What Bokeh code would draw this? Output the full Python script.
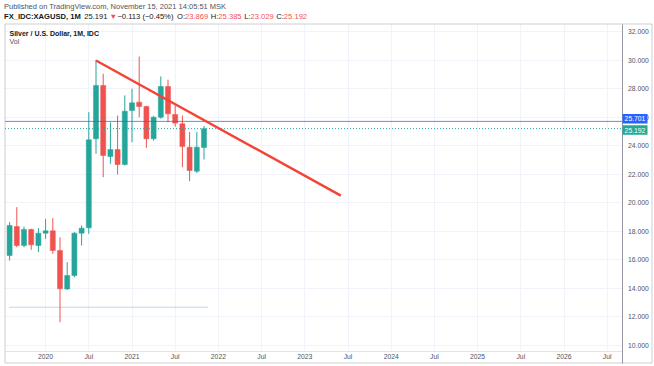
from bokeh.plotting import figure
from bokeh.models import (ColumnDataSource, FixedTicker, PrintfTickFormatter,
                          Label, BoxAnnotation, Range1d)
from bokeh.embed import file_html
from bokeh.resources import INLINE

# ---------------- data ----------------
# month index: 0 = Jan 2020 ; monthly bars Aug 2019 .. Nov 2021
month_idx = list(range(-5, 23))
open_ = [16.30, 18.33, 17.00, 18.13, 17.00, 17.87, 18.03, 16.65, 13.95,
         14.90, 17.87, 18.24, 24.48, 28.22, 23.24, 23.73, 22.68, 26.46, 27.05,
         26.74, 24.48, 25.99, 28.15, 26.18, 25.53, 23.89, 22.21, 23.869]
high = [18.64, 19.69, 18.33, 18.18, 18.22, 18.87, 18.92, 17.58, 15.83,
        17.94, 18.41, 26.35, 30.01, 29.04, 25.64, 26.11, 27.52, 27.99, 30.25,
        26.80, 26.08, 28.85, 28.62, 26.81, 26.11, 24.95, 24.95, 25.385]
low = [15.95, 16.88, 16.88, 16.70, 16.54, 17.47, 16.42, 11.63, 13.90,
       14.78, 17.00, 17.82, 23.43, 21.79, 22.73, 21.98, 22.61, 24.24, 25.99,
       23.85, 24.36, 25.88, 25.64, 25.34, 22.49, 21.51, 22.07, 23.029]
close = [18.41, 17.00, 18.13, 17.05, 17.87, 18.03, 16.65, 13.97, 14.90,
         17.87, 18.22, 24.41, 28.22, 23.31, 23.73, 22.68, 26.42, 27.00, 26.74,
         24.48, 25.99, 28.15, 26.23, 25.58, 23.94, 22.26, 23.89, 25.192]

x_ticks = [0, 6, 12, 18, 24, 30, 36, 42, 48, 54, 60, 66, 72, 78]
x_tick_labels = ["2020", "Jul", "2021", "Jul", "2022", "Jul", "2023", "Jul",
                 "2024", "Jul", "2025", "Jul", "2026", "Jul"]
y_ticks = [10, 12, 14, 16, 18, 20, 22, 24, 26, 28, 30, 32]

trend_x = [7, 41]
trend_y = [29.97, 20.50]
support_x = [-5.1, 22.6]
support_y = [12.68, 12.68]
hline_level = 25.701
last_price = 25.192

header1 = "Published on TradingView.com, November 15, 2021 14:05:51 MSK"
header2 = [("FX_IDC:XAGUSD, 1M", "bold", "#131722"),
           ("25.191", "normal", "#131722"),
           ("\u25BC", "normal", "#ef5350"),
           ("\u22120.113 (\u22120.45%)", "normal", "#131722"),
           ("O:", "normal", "#131722"), ("23.869", "normal", "#ef5350"),
           ("H:", "normal", "#131722"), ("25.385", "normal", "#ef5350"),
           ("L:", "normal", "#131722"), ("23.029", "normal", "#ef5350"),
           ("C:", "normal", "#131722"), ("25.192", "normal", "#ef5350")]
chart_title = "Silver / U.S. Dollar, 1M, IDC"
sub_title = "Vol"

UP, DOWN = "#26a69a", "#ef5350"
FONT = "Liberation Sans"

# ---------------- layout helpers (pixel geometry) ----------------
W, H = 653, 365
BOX_L, BOX_R, BOX_T, BOX_B = 4.5, 651.5, 23.5, 362.5   # outer chart box (px from top-left)
AXIS_X = 621.5                                         # price-axis separator
TIME_Y = 350.5                                         # time-axis separator
X0, DX = 45.1, 7.2                                     # px of Jan 2020, px per month
Y0, DY = 31.0, 14.27                                   # px of 32.0, px per unit

def m_at(px):
    return (px - X0) / DX

def v_at(py):
    return 32.0 - (py - Y0) / DY

def sy(py):  # screen units measured from bottom of frame
    return H - py

p = figure(width=W, height=H, min_border=0, min_border_left=0, min_border_right=0,
           min_border_top=0, min_border_bottom=0,
           x_range=Range1d(m_at(0), m_at(W)), y_range=Range1d(v_at(H), v_at(0)),
           y_axis_location="right", x_axis_location="below",
           output_backend="svg", toolbar_location=None,
           background_fill_color="white", border_fill_color="white",
           outline_line_color=None)

colors = [UP if c >= o else DOWN for o, c in zip(open_, close)]
src = ColumnDataSource(dict(x=month_idx, o=open_, h=high, l=low, c=close,
                            top=[max(a, b) for a, b in zip(open_, close)],
                            bot=[min(a, b) for a, b in zip(open_, close)],
                            col=colors))

# grid
p.xgrid.ticker = FixedTicker(ticks=x_ticks)
p.ygrid.ticker = FixedTicker(ticks=y_ticks)
p.grid.grid_line_color = "#f0f3fa"
p.grid.grid_line_width = 1

# masks so grid stays inside the price pane
def screen_box(l, r, t, b, **kw):
    return BoxAnnotation(left=l, right=r, top=sy(t), bottom=sy(b),
                         left_units="screen", right_units="screen",
                         top_units="screen", bottom_units="screen", **kw)

for l, r, t, b in [(0, W, 0, BOX_T), (0, W, TIME_Y, H), (AXIS_X, W, 0, H), (0, BOX_L, 0, H)]:
    p.add_layout(screen_box(l, r, t, b, fill_color="white", fill_alpha=1,
                            line_color=None, level="underlay"))

# horizontal support ray
p.line(support_x, support_y, line_color="#bcdcd7", line_width=1)

# candles
p.segment(x0="x", y0="l", x1="x", y1="h", source=src, line_color="col", line_width=1)
p.vbar(x="x", width=0.7, top="top", bottom="bot", source=src,
       fill_color="col", line_color="col", line_width=0.5)

# price lines
xl, xr = m_at(BOX_L), m_at(AXIS_X)
p.line([xl, xr], [hline_level, hline_level], line_color="#2962ff", line_width=1, line_alpha=0.75)
p.line([xl, xr], [last_price, last_price], line_color=UP, line_width=1, line_dash="1 2")

# trend line
p.line(trend_x, trend_y, line_color="#f44336", line_width=2.4)

# axes placed inside the box
xa, ya = p.xaxis[0], p.yaxis[0]
xa.fixed_location = v_at(TIME_Y)
xa.bounds = (m_at(BOX_L), m_at(AXIS_X))
ya.fixed_location = m_at(AXIS_X)
ya.bounds = (v_at(BOX_B), v_at(BOX_T))
xa.ticker = FixedTicker(ticks=x_ticks)
xa.major_label_overrides = {t: l for t, l in zip(x_ticks, x_tick_labels)}
ya.ticker = FixedTicker(ticks=y_ticks)
ya.formatter = PrintfTickFormatter(format="%.3f")
for ax in (xa, ya):
    ax.major_tick_line_color = None
    ax.minor_tick_line_color = None
    ax.major_tick_out = 0
    ax.major_tick_in = 0
    ax.major_label_text_font = FONT
    ax.major_label_text_font_size = "6.8px"
    ax.major_label_text_color = "#50535e"
xa.axis_line_color = "#e0e3eb"
ya.axis_line_color = "#9598a1"
xa.major_label_standoff = 2
ya.major_label_standoff = 6

# outer border
p.add_layout(screen_box(BOX_L, BOX_R, BOX_T, BOX_B, fill_alpha=0, fill_color=None,
                        line_color="#5d606b", line_width=1))

# price tags on the axis
for val, col, lo, hi in [(hline_level, "#2962ff", -0.14, 0.51), (last_price, "#22ab94", -0.42, 0.23)]:
    p.add_layout(BoxAnnotation(left=622, right=647, bottom=val + lo, top=val + hi,
                               left_units="screen", right_units="screen",
                               fill_color=col, fill_alpha=1, line_color=None))
    p.add_layout(Label(x=634.5, x_units="screen", y=val + (lo + hi) / 2, y_units="data",
                       text="%.3f" % val, text_color="white", text_font=FONT,
                       text_font_size="6.8px", text_baseline="middle", text_align="center"))

# header line 1
p.add_layout(Label(x=3.5, y=sy(6), x_units="screen", y_units="screen", text=header1,
                   text_font=FONT, text_font_size="7.5px", text_color="#50535e",
                   text_baseline="middle"))

# header line 2 (pieces laid out left to right with Arial-like advance widths)
REG = {c: 0.556 for c in "0123456789"}
REG.update({".": 0.278, ",": 0.278, " ": 0.278, ":": 0.278, "(": 0.333, ")": 0.333,
            "%": 0.889, "\u2212": 0.584, "O": 0.778, "H": 0.722, "L": 0.556, "C": 0.722,
            "\u25BC": 0.75})
BOLD = {"F": 0.611, "X": 0.667, "_": 0.556, "I": 0.278, "D": 0.722, "C": 0.722, ":": 0.333,
        "A": 0.722, "G": 0.778, "U": 0.722, "S": 0.667, ",": 0.278, " ": 0.278, "1": 0.556,
        "M": 0.833}
FS2 = 7.6
gaps = [1.6, 1, 1, 1.4, 0, 1.2, 0, 1.2, 0, 1.2, 0, 0]   # spaces after each piece
cx = 3.5
for (txt, wt, col), g in zip(header2, gaps):
    p.add_layout(Label(x=cx, y=sy(16), x_units="screen", y_units="screen",
                       text=txt, text_font=FONT, text_font_size="%gpx" % FS2,
                       text_font_style=wt, text_color=col, text_baseline="middle"))
    table = BOLD if wt == "bold" else REG
    cx += sum(table.get(ch, 0.55) for ch in txt) * FS2 + g * 0.278 * FS2

p.add_layout(Label(x=9, y=sy(32.5), x_units="screen", y_units="screen", text=chart_title,
                   text_font=FONT, text_font_size="7px", text_font_style="bold",
                   text_color="#131722", text_baseline="middle"))
p.add_layout(Label(x=9, y=sy(41), x_units="screen", y_units="screen", text=sub_title,
                   text_font=FONT, text_font_size="7px", text_color="#50535e",
                   text_baseline="middle"))

open("out.html", "w").write(file_html(p, INLINE))
